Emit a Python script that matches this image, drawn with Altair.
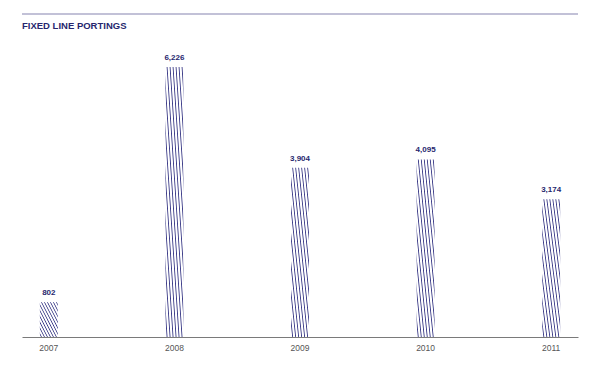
import altair as alt
import pandas as pd

years = ["2007", "2008", "2009", "2010", "2011"]
portings = [802, 6226, 3904, 4095, 3174]
title_text = "FIXED LINE PORTINGS"

df = pd.DataFrame({"year": years, "value": portings})

navy = "#27276e"
stripe = "#3c3c88"
n_stripes = 12
stops = []
for k in range(n_stripes):
    a = k / n_stripes
    stops += [
        {"offset": a, "color": "#ffffff"},
        {"offset": a + 0.25 / n_stripes, "color": "#ffffff"},
        {"offset": a + 0.55 / n_stripes, "color": stripe},
        {"offset": a + 0.85 / n_stripes, "color": "#ffffff"},
    ]
stops.append({"offset": 1, "color": "#ffffff"})
hatch = {"gradient": "linear", "x1": 0, "y1": 1, "x2": 1, "y2": 0, "stops": stops}

W, H = 556, 323
FONT = "Liberation Sans"

xenc = alt.X(
    "year:N",
    sort=years,
    scale=alt.Scale(paddingInner=0.857, paddingOuter=0.142),
    axis=alt.Axis(
        title=None,
        labelAngle=0,
        ticks=False,
        domainColor="#7a7a7a",
        domainWidth=1,
        labelColor="#555555",
        labelFont=FONT,
        labelFontSize=8.5,
        labelPadding=6,
        grid=False,
    ),
)
yenc = alt.Y("value:Q", scale=alt.Scale(domain=[0, 7448]), axis=None)

base = alt.Chart(df).encode(x=xenc, y=yenc)

bars = base.mark_bar(fill=hatch)
labels = base.mark_text(
    baseline="alphabetic", dy=-7, font=FONT, fontSize=8, fontWeight="bold", color=navy
).encode(text=alt.Text("value:Q", format=","))

top_rule = alt.Chart(pd.DataFrame({"a": [0]})).mark_rule(
    color="#8583b0", strokeWidth=1.2
).encode(x=alt.value(0), x2=alt.value(W), y=alt.value(0))

title = alt.Chart(pd.DataFrame({"t": [title_text]})).mark_text(
    align="left", baseline="middle", font=FONT, fontSize=9.5, fontWeight="bold", color=navy
).encode(text="t:N", x=alt.value(0), y=alt.value(12))

chart = (
    alt.layer(bars, labels, top_rule, title)
    .properties(
        width=W,
        height=H,
        autosize=alt.AutoSizeParams(type="none"),
        padding={"left": 14, "top": 6, "right": 14, "bottom": 21},
        background="white",
    )
    .configure_view(stroke=None)
)

chart.save("out.html", embed_options={"renderer": "svg", "actions": False})
